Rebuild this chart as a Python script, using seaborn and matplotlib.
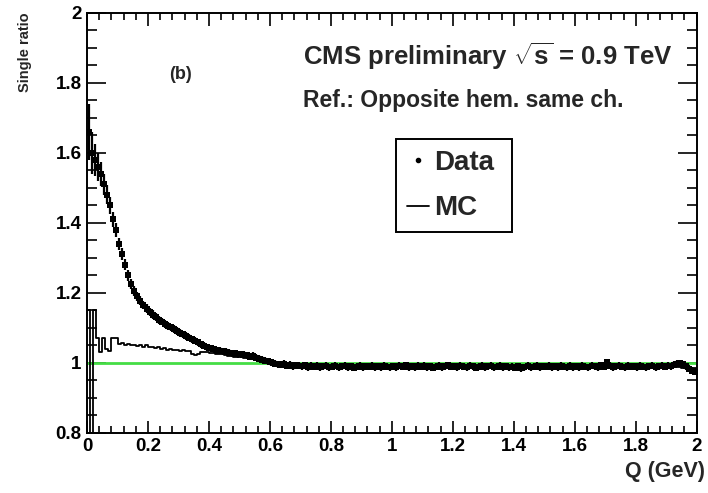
import numpy as np
import seaborn as sns
import matplotlib.pyplot as plt
from matplotlib.ticker import MultipleLocator
from matplotlib.lines import Line2D

# Q binning (GeV), 0.01 wide bins for the data
q_edges = np.linspace(0, 2, 201)
q_centers = (q_edges[:-1] + q_edges[1:]) / 2

# single ratio, data
ratio_data = [
    1.66, 1.60, 1.58, 1.56, 1.54, 1.51, 1.48, 1.45, 1.41, 1.38,
    1.34, 1.31, 1.28, 1.25, 1.225, 1.205, 1.19, 1.178, 1.165, 1.155,
    1.146, 1.138, 1.131, 1.123, 1.118, 1.111, 1.106, 1.101, 1.096, 1.091,
    1.086, 1.081, 1.077, 1.072, 1.068, 1.063, 1.059, 1.053, 1.049, 1.045,
    1.042, 1.039, 1.036, 1.035, 1.033, 1.031, 1.029, 1.028, 1.027, 1.025,
    1.024, 1.023, 1.022, 1.018, 1.020, 1.014, 1.012, 1.009, 1.006, 1.004,
    1.002, 0.998, 0.996, 0.994, 0.997, 0.992, 0.995, 0.990, 0.993, 0.991,
    0.990, 0.993, 0.988, 0.991, 0.989, 0.992, 0.987, 0.990, 0.991, 0.988,
    0.989, 0.991, 0.987, 0.990, 0.992, 0.988, 0.990, 0.986, 0.989, 0.991,
    0.988, 0.990, 0.989, 0.992, 0.987, 0.990, 0.988, 0.991, 0.989, 0.987,
    0.990, 0.988, 0.991, 0.989, 0.993, 0.988, 0.990, 0.987, 0.991, 0.989,
    0.992, 0.988, 0.990, 0.986, 0.989, 0.991, 0.988, 0.990, 0.993, 0.989,
    0.990, 0.987, 0.991, 0.989, 0.988, 0.992, 0.990, 0.986, 0.989, 0.991,
    0.988, 0.990, 0.992, 0.987, 0.989, 0.991, 0.988, 0.990, 0.987, 0.989,
    0.986, 0.990, 0.984, 0.988, 0.991, 0.987, 0.989, 0.992, 0.988, 0.990,
    0.989, 0.991, 0.987, 0.990, 0.988, 0.992, 0.989, 0.987, 0.991, 0.988,
    0.990, 0.988, 0.992, 0.989, 0.987, 0.991, 0.990, 0.988, 0.993, 0.989,
    1.002, 0.991, 0.988, 0.990, 0.992, 0.989, 0.987, 0.991, 0.989, 0.990,
    0.988, 0.991, 0.989, 0.987, 0.990, 0.992, 0.988, 0.990, 0.991, 0.989,
    0.992, 0.990, 0.994, 0.997, 0.999, 0.996, 0.990, 0.983, 0.978, 0.975,
]
ratio_err = [
    0.080, 0.060, 0.045, 0.040, 0.035, 0.030, 0.027, 0.024, 0.022, 0.020,
    0.018, 0.017, 0.016, 0.015, 0.014, 0.014, 0.013, 0.013, 0.012, 0.012,
    0.012, 0.012, 0.011, 0.011, 0.011, 0.011, 0.011, 0.011, 0.011, 0.011,
    0.011, 0.011, 0.011, 0.010, 0.010, 0.010, 0.010, 0.010, 0.010, 0.010,
] + [0.010] * 160

# MC: 0.01 bins up to 0.6 GeV, 0.05 bins above
mc_edges = np.concatenate([np.linspace(0, 0.6, 61), np.linspace(0.65, 2.0, 28)])
mc_ratio = [
    1.150, 0.500, 1.150, 1.070, 1.030, 1.070, 1.040, 1.035, 1.070, 1.070,
    1.055, 1.058, 1.052, 1.055, 1.050, 1.052, 1.048, 1.050, 1.046, 1.050,
    1.044, 1.046, 1.042, 1.045, 1.040, 1.042, 1.038, 1.040, 1.036, 1.038,
    1.035, 1.036, 1.033, 1.034, 1.025, 1.022, 1.024, 1.030, 1.032, 1.030,
    1.028, 1.027, 1.026, 1.025, 1.024, 1.022, 1.020, 1.019, 1.018, 1.017,
    1.016, 1.015, 1.013, 1.012, 1.010, 1.008, 1.006, 1.004, 1.002, 1.000,
    0.996, 0.994, 0.993, 0.991, 0.992, 0.990, 0.991, 0.989, 0.990, 0.991,
    0.989, 0.990, 0.988, 0.990, 0.991, 0.989, 0.990, 0.988, 0.991, 0.990,
    0.989, 0.991, 0.990, 0.988, 0.990, 0.992, 0.989, 0.985,
]

sns.set_style("ticks")
plt.rcParams['font.family'] = ['Liberation Sans', 'DejaVu Sans']
plt.rcParams['font.weight'] = 'bold'
plt.rcParams['mathtext.fontset'] = 'custom'
plt.rcParams['mathtext.rm'] = 'Liberation Sans:bold'
plt.rcParams['mathtext.it'] = 'Liberation Sans:bold'
plt.rcParams['mathtext.bf'] = 'Liberation Sans:bold'

fig = plt.figure(figsize=(7.08, 4.93), dpi=100)
ax = fig.add_axes([0.123, 0.122, 0.861, 0.852])

# reference line at 1
ax.axhline(1.0, color='#44dd44', lw=2, zorder=1)

# MC as step histogram
mc_x = list(mc_edges)
mc_y = mc_ratio + [mc_ratio[-1]]
sns.lineplot(x=mc_x, y=mc_y, drawstyle='steps-post', color='black', lw=1.3,
             estimator=None, sort=False, ax=ax, zorder=2)

# data points with error bars
ax.errorbar(q_centers, ratio_data, yerr=ratio_err, xerr=0.005, fmt='none',
            ecolor='black', elinewidth=1.6, zorder=3)
sns.scatterplot(x=q_centers, y=ratio_data, marker='s', s=14, color='black',
                edgecolor='black', linewidth=0, ax=ax, zorder=4)

ax.set_xlim(0, 2)
ax.set_ylim(0.8, 2)
ax.xaxis.set_minor_locator(MultipleLocator(0.04))
ax.yaxis.set_minor_locator(MultipleLocator(0.05))
ax.set_xticks([0, 0.2, 0.4, 0.6, 0.8, 1, 1.2, 1.4, 1.6, 1.8, 2])
ax.set_xticklabels(['0', '0.2', '0.4', '0.6', '0.8', '1', '1.2', '1.4', '1.6', '1.8', '2'])
ax.set_yticks([0.8, 1, 1.2, 1.4, 1.6, 1.8, 2])
ax.set_yticklabels(['0.8', '1', '1.2', '1.4', '1.6', '1.8', '2'])

ax.tick_params(which='both', direction='in', top=True, right=True, width=1.2,
               labelsize=13.5, colors='black')
ax.tick_params(axis='y', which='major', length=14, pad=4)
ax.tick_params(axis='y', which='minor', length=7)
ax.tick_params(axis='x', which='major', length=9, pad=4)
ax.tick_params(axis='x', which='minor', length=5)
for sp in ax.spines.values():
    sp.set_linewidth(1.4)
    sp.set_color('black')

ax.set_xlabel('Q (GeV)', fontsize=15.5, fontweight='bold', ha='right')
ax.xaxis.set_label_coords(1.014, -0.066)
ax.set_ylabel('Single ratio', fontsize=10.5, fontweight='bold', ha='right')
ax.yaxis.set_label_coords(-0.090, 1.0)

ax.text(0.305, 1.823, '(b)', fontsize=13, fontweight='bold', ha='center', va='center')
ax.text(0.708, 1.875, r'CMS preliminary $\sqrt{s}$ = 0.9 TeV', fontsize=18.5,
        fontweight='bold', ha='left', va='center')
ax.text(0.708, 1.75, 'Ref.: Opposite hem. same ch.', fontsize=16.5,
        fontweight='bold', ha='left', va='center')

handles = [Line2D([], [], marker='.', ls='none', color='black', markersize=6),
           Line2D([], [], color='black', lw=1.3)]
leg = ax.legend(handles, ['Data', 'MC'], loc='upper left', mode='expand',
                bbox_to_anchor=(0.507, 0.479, 0.19, 0.221), frameon=True,
                fancybox=False, edgecolor='black', framealpha=1,
                prop={'weight': 'bold', 'size': 20},
                handlelength=0.8, handletextpad=0.15, borderpad=0.4,
                borderaxespad=0, labelspacing=0.7)
leg.get_frame().set_linewidth(1.4)

fig.savefig('out.png', dpi=100)
